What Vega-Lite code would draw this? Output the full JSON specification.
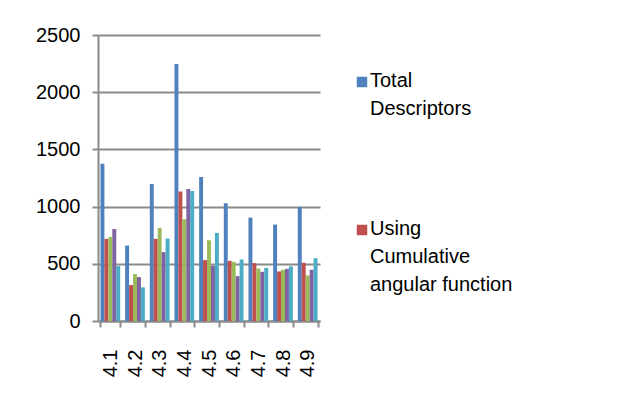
{
  "$schema": "https://vega.github.io/schema/vega-lite/v6.json",
  "width": 222,
  "height": 286,
  "autosize": {"type": "none"},
  "padding": {"left": 98, "top": 35, "right": 306, "bottom": 85},
  "background": "white",
  "config": {
    "view": {"stroke": null},
    "font": "Liberation Sans"
  },
  "data": {
    "values": [
      {"cat": "4.1", "series": "Total Descriptors", "value": 1375},
      {"cat": "4.1", "series": "Using Cumulative angular function", "value": 718},
      {"cat": "4.1", "series": "Series 3", "value": 735},
      {"cat": "4.1", "series": "Series 4", "value": 805},
      {"cat": "4.1", "series": "Series 5", "value": 480},
      {"cat": "4.2", "series": "Total Descriptors", "value": 660},
      {"cat": "4.2", "series": "Using Cumulative angular function", "value": 314},
      {"cat": "4.2", "series": "Series 3", "value": 410},
      {"cat": "4.2", "series": "Series 4", "value": 384},
      {"cat": "4.2", "series": "Series 5", "value": 294},
      {"cat": "4.3", "series": "Total Descriptors", "value": 1198},
      {"cat": "4.3", "series": "Using Cumulative angular function", "value": 718},
      {"cat": "4.3", "series": "Series 3", "value": 814},
      {"cat": "4.3", "series": "Series 4", "value": 602},
      {"cat": "4.3", "series": "Series 5", "value": 721},
      {"cat": "4.4", "series": "Total Descriptors", "value": 2247},
      {"cat": "4.4", "series": "Using Cumulative angular function", "value": 1131},
      {"cat": "4.4", "series": "Series 3", "value": 890},
      {"cat": "4.4", "series": "Series 4", "value": 1154},
      {"cat": "4.4", "series": "Series 5", "value": 1137},
      {"cat": "4.5", "series": "Total Descriptors", "value": 1259},
      {"cat": "4.5", "series": "Using Cumulative angular function", "value": 532},
      {"cat": "4.5", "series": "Series 3", "value": 706},
      {"cat": "4.5", "series": "Series 4", "value": 483},
      {"cat": "4.5", "series": "Series 5", "value": 770},
      {"cat": "4.6", "series": "Total Descriptors", "value": 1029},
      {"cat": "4.6", "series": "Using Cumulative angular function", "value": 526},
      {"cat": "4.6", "series": "Series 3", "value": 517},
      {"cat": "4.6", "series": "Series 4", "value": 392},
      {"cat": "4.6", "series": "Series 5", "value": 538},
      {"cat": "4.7", "series": "Total Descriptors", "value": 904},
      {"cat": "4.7", "series": "Using Cumulative angular function", "value": 506},
      {"cat": "4.7", "series": "Series 3", "value": 459},
      {"cat": "4.7", "series": "Series 4", "value": 430},
      {"cat": "4.7", "series": "Series 5", "value": 465},
      {"cat": "4.8", "series": "Total Descriptors", "value": 843},
      {"cat": "4.8", "series": "Using Cumulative angular function", "value": 433},
      {"cat": "4.8", "series": "Series 3", "value": 448},
      {"cat": "4.8", "series": "Series 4", "value": 456},
      {"cat": "4.8", "series": "Series 5", "value": 477},
      {"cat": "4.9", "series": "Total Descriptors", "value": 997},
      {"cat": "4.9", "series": "Using Cumulative angular function", "value": 509},
      {"cat": "4.9", "series": "Series 3", "value": 398},
      {"cat": "4.9", "series": "Series 4", "value": 448},
      {"cat": "4.9", "series": "Series 5", "value": 549}
    ]
  },
  "mark": {"type": "bar"},
  "encoding": {
    "x": {
      "field": "cat",
      "type": "nominal",
      "scale": {"paddingInner": 0.2, "paddingOuter": 0.1},
      "axis": {
        "title": null,
        "labelAngle": -90,
        "labelFontSize": 20,
        "labelColor": "black",
        "labelPadding": 22,
        "tickBand": "extent",
        "tickSize": 6,
        "tickWidth": 2,
        "tickColor": "#8a8a8a",
        "domainColor": "#8a8a8a",
        "domainWidth": 2,
        "grid": false
      }
    },
    "xOffset": {
      "field": "series",
      "type": "nominal",
      "sort": ["Total Descriptors", "Using Cumulative angular function", "Series 3", "Series 4", "Series 5"]
    },
    "y": {
      "field": "value",
      "type": "quantitative",
      "scale": {"domain": [0, 2500], "nice": false},
      "axis": {
        "title": null,
        "values": [0, 500, 1000, 1500, 2000, 2500],
        "format": "d",
        "labelFontSize": 20,
        "labelColor": "black",
        "labelPadding": 12,
        "tickSize": 6,
        "tickWidth": 2,
        "tickColor": "#8a8a8a",
        "domainColor": "#8a8a8a",
        "domainWidth": 2,
        "grid": true,
        "gridColor": "#8a8a8a",
        "gridWidth": 2
      }
    },
    "color": {
      "field": "series",
      "type": "nominal",
      "scale": {
        "domain": ["Total Descriptors", "Using Cumulative angular function", "Series 3", "Series 4", "Series 5"],
        "range": ["#4F81BD", "#C0504D", "#9BBB59", "#8064A2", "#4BACC6"]
      },
      "legend": {
        "title": null,
        "orient": "none",
        "legendX": 254,
        "legendY": 37,
        "values": ["Total Descriptors", "Using Cumulative angular function"],
        "symbolType": "square",
        "symbolSize": 110,
        "symbolStrokeWidth": 0,
        "labelFontSize": 20,
        "labelColor": "black",
        "labelLimit": 300,
        "labelBaseline": "top",
        "labelOffset": -2,
        "rowPadding": 100,
        "labelExpr": "datum.label == 'Total Descriptors' ? ['Total', 'Descriptors'] : ['Using', 'Cumulative', 'angular function']",
        "encode": {
          "labels": {
            "update": {
              "lineHeight": {"value": 28},
              "dy": {"value": -11}
            }
          }
        }
      }
    }
  }
}
